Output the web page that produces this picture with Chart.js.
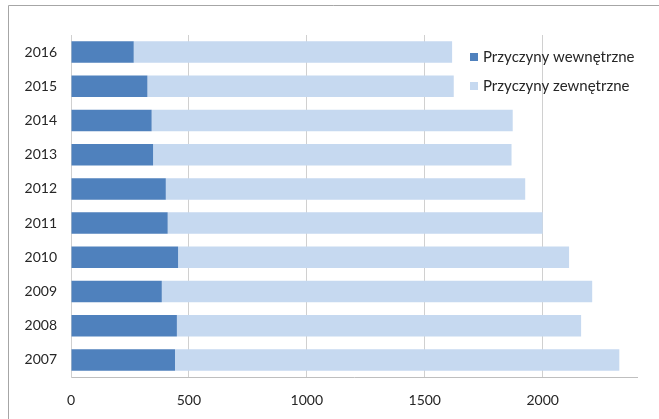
<!DOCTYPE html>
<html>
<head>
<meta charset="utf-8">
<script src="https://cdn.jsdelivr.net/npm/chart.js@4"></script>
<style>
  html, body { margin: 0; padding: 0; background: #fff; }
  #wrap { width: 659px; height: 419px; position: relative; }
</style>
</head>
<body>
<div id="wrap"><canvas id="barChart"></canvas></div>
<script>
// --- Data (top bar first) ---
const years = ['2016', '2015', '2014', '2013', '2012', '2011', '2010', '2009', '2008', '2007'];
const internalCauses = [266, 324, 342, 348, 402, 410, 454, 385, 449, 441];
const externalCauses = [1350, 1299, 1531, 1520, 1524, 1590, 1658, 1825, 1714, 1884];
const seriesNames = ['Przyczyny wewnętrzne', 'Przyczyny zewnętrzne'];
const xTicks = [0, 500, 1000, 1500, 2000];

const FONT = 'Lato, "Open Sans", sans-serif';
const TEXT = '#262626';

// --- Frame + legend drawn on top of the chart area ---
const framePlugin = {
    id: 'frame',
    beforeDraw(chart) {
        const ctx = chart.ctx;
        ctx.save();
        ctx.strokeStyle = '#a6a6a6';
        ctx.lineWidth = 1;
        ctx.beginPath();
        ctx.moveTo(8.5, chart.height);
        ctx.lineTo(8.5, 5.5);
        ctx.lineTo(chart.width, 5.5);
        ctx.stroke();
        ctx.restore();
    }
};

const legendPlugin = {
    id: 'boxLegend',
    afterDraw(chart) {
        const ctx = chart.ctx;
        ctx.save();
        ctx.font = '15px ' + FONT;
        ctx.textBaseline = 'middle';
        chart.data.datasets.forEach((ds, i) => {
            const y = 57 + i * 29;
            ctx.fillStyle = ds.backgroundColor;
            ctx.fillRect(470, y - 4, 8, 8);
            ctx.fillStyle = TEXT;
            ctx.fillText(ds.label, 483, y);
        });
        ctx.restore();
    }
};

const ctx = document.getElementById('barChart').getContext('2d');
const barChart = new Chart(ctx, {
    type: 'bar',
    data: {
        labels: years,
        datasets: [
            { label: seriesNames[0], data: internalCauses, backgroundColor: '#4f81bd' },
            { label: seriesNames[1], data: externalCauses, backgroundColor: '#c6d9f0' }
        ]
    },
    options: {
        indexAxis: 'y',
        responsive: true,
        maintainAspectRatio: false,
        animation: false,
        layout: { padding: { left: 0, top: 35, right: 22, bottom: 0 } },
        datasets: { bar: { categoryPercentage: 1, barPercentage: 0.63 } },
        plugins: { legend: { display: false }, tooltip: { enabled: false } },
        scales: {
            x: {
                stacked: true,
                min: 0,
                max: 2400,
                afterBuildTicks: (scale) => { scale.ticks = xTicks.map(v => ({ value: v })); },
                afterFit: (scale) => { scale.height = 42; },
                grid: { color: '#d0d0d0', drawTicks: false },
                border: { color: '#bfbfbf' },
                ticks: {
                    color: TEXT, padding: 15, font: { family: FONT, size: 14 },
                    callback: (v) => String(v)
                }
            },
            y: {
                stacked: true,
                afterFit: (scale) => { scale.width = 71; },
                grid: { display: false, drawTicks: false },
                border: { display: true, color: '#d0d0d0' },
                ticks: { color: TEXT, padding: 14, font: { family: FONT, size: 14 } }
            }
        }
    },
    plugins: [framePlugin, legendPlugin]
});
</script>
</body>
</html>
